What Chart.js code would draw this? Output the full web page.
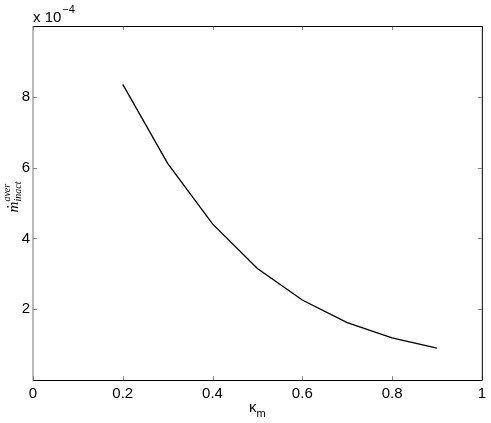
<!DOCTYPE html>
<html>
<head>
<meta charset="utf-8">
<script src="https://cdn.jsdelivr.net/npm/chart.js@4.4.0/dist/chart.umd.min.js"></script>
<style>
  html, body { margin: 0; padding: 0; background: #fff; }
  #wrap { width: 491px; height: 423px; }
</style>
</head>
<body>
<div id="wrap"><canvas id="c" width="491" height="423"></canvas></div>
<script>
// ── data (y values in units of 1e-4) ──
const kappa  = [0.2, 0.3, 0.4, 0.5, 0.6, 0.7, 0.8, 0.9];
const mInact = [8.35, 6.12, 4.41, 3.15, 2.26, 1.62, 1.19, 0.90];
const xTicks = [0, 0.2, 0.4, 0.6, 0.8, 1];
const yTicks = [2, 4, 6, 8];

const FONT = "'Liberation Sans', Arial, sans-serif";
const SERIF = "'Liberation Serif', 'DejaVu Serif', serif";

// ── box, inward ticks, multiplier and axis titles ──
const matlabAxes = {
  id: "matlabAxes",
  afterDraw(chart) {
    const { ctx, chartArea: a, scales } = chart;
    const xs = scales.x, ys = scales.y;
    const L = 4;
    ctx.save();

    // ticks (gray, pointing inward, all four sides)
    ctx.strokeStyle = "#8a8a8a";
    ctx.lineWidth = 1;
    ctx.beginPath();
    xTicks.forEach(v => {
      const px = Math.round(xs.getPixelForValue(v)) + 0.5;
      ctx.moveTo(px, a.bottom); ctx.lineTo(px, a.bottom - L);
      ctx.moveTo(px, a.top);    ctx.lineTo(px, a.top + L);
    });
    yTicks.forEach(v => {
      const py = Math.round(ys.getPixelForValue(v)) + 0.5;
      ctx.moveTo(a.left, py);  ctx.lineTo(a.left + L, py);
      ctx.moveTo(a.right, py); ctx.lineTo(a.right - L, py);
    });
    ctx.stroke();

    // box
    ctx.strokeStyle = "#000";
    ctx.beginPath();
    ctx.moveTo(a.left, a.top + 0.5);       ctx.lineTo(a.right + 0.5, a.top + 0.5);
    ctx.lineTo(a.right + 0.5, a.bottom + 0.5);
    ctx.lineTo(a.left, a.bottom + 0.5);
    ctx.stroke();
    ctx.strokeStyle = "#777";
    ctx.beginPath();
    ctx.moveTo(a.left, a.top); ctx.lineTo(a.left, a.bottom + 1);
    ctx.stroke();

    // "x 10^-4"
    ctx.fillStyle = "#000";
    ctx.textBaseline = "alphabetic";
    ctx.textAlign = "left";
    ctx.font = "15px " + FONT;
    ctx.fillText("x 10", a.left, 22);
    const w = ctx.measureText("x 10").width;
    ctx.font = "11px " + FONT;
    ctx.fillText("\u22124", a.left + w + 1, 13);

    // x title: kappa_m
    const cx = (a.left + a.right) / 2;
    ctx.font = "15px " + FONT;
    const kw = ctx.measureText("\u03ba").width;
    ctx.font = "11px " + FONT;
    const mw = ctx.measureText("m").width;
    const x0 = cx - (kw + mw) / 2;
    ctx.font = "15px " + FONT;
    ctx.fillText("\u03ba", x0, 412);
    ctx.font = "11px " + FONT;
    ctx.fillText("m", x0 + kw, 417);

    // y title: m-dot inact/aver, rotated
    ctx.translate(18, (a.top + a.bottom) / 2 - 6);
    ctx.rotate(-Math.PI / 2);
    ctx.font = "italic 15px " + SERIF;
    const mm = ctx.measureText("m").width;
    ctx.font = "italic 10px " + SERIF;
    const iw = ctx.measureText("inact").width;
    const total = mm + iw;
    const sx = -total / 2;
    ctx.font = "italic 15px " + SERIF;
    ctx.fillText("m", sx, 0);
    ctx.fillRect(sx + mm / 2 - 0.5, -11, 1.6, 1.6);
    ctx.font = "italic 10px " + SERIF;
    ctx.fillText("inact", sx + mm, 3);
    ctx.fillText("aver", sx + mm, -8);

    ctx.restore();
  }
};

new Chart(document.getElementById("c"), {
  type: "line",
  data: {
    datasets: [{
      data: kappa.map((k, i) => ({ x: k, y: mInact[i] })),
      borderColor: "#000",
      borderWidth: 1.3,
      pointRadius: 0,
      tension: 0,
      fill: false
    }]
  },
  options: {
    responsive: false,
    devicePixelRatio: 1,
    animation: false,
    layout: { padding: { left: 0, top: 26, right: 9, bottom: 0 } },
    plugins: { legend: { display: false }, tooltip: { enabled: false } },
    scales: {
      x: {
        type: "linear", min: 0, max: 1,
        border: { display: false },
        grid: { display: false, drawTicks: false },
        afterBuildTicks: s => { s.ticks = xTicks.map(v => ({ value: v })); },
        afterFit: s => { s.height = 43; },
        ticks: {
          padding: 5, color: "#000", maxRotation: 0,
          font: { family: FONT, size: 15 },
          callback: v => String(v)
        }
      },
      y: {
        type: "linear", min: 0, max: 10,
        border: { display: false },
        grid: { display: false, drawTicks: false },
        afterBuildTicks: s => { s.ticks = yTicks.map(v => ({ value: v })); },
        afterFit: s => { s.width = 33; },
        ticks: {
          padding: 3, color: "#000",
          font: { family: FONT, size: 15 },
          callback: v => String(v)
        }
      }
    }
  },
  plugins: [matlabAxes]
});
</script>
</body>
</html>
